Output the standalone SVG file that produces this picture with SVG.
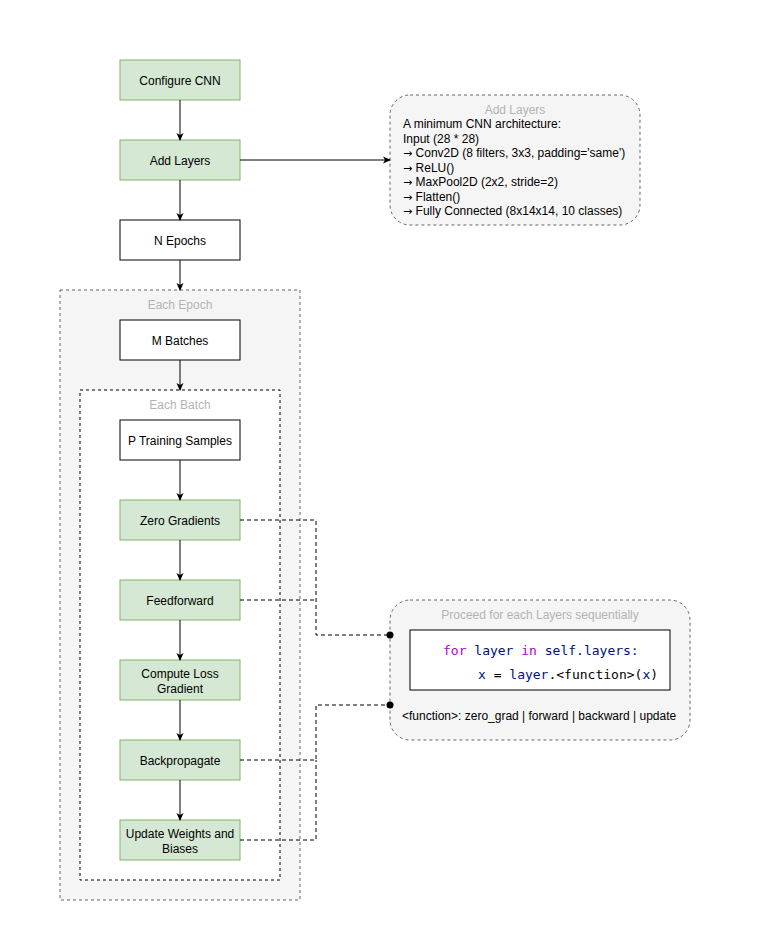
<svg xmlns="http://www.w3.org/2000/svg" width="760" height="950" viewBox="0 0 760 950">
<style>
.node{stroke-width:1}
.green{fill:#d5e8d4;stroke:#82b366}
.white{fill:#ffffff;stroke:#000000}
.lbl{font-family:"Liberation Sans",Arial,sans-serif;font-size:12px;fill:#000;text-anchor:middle}
.title{font-family:"Liberation Sans",Arial,sans-serif;font-size:12px;fill:#b3b3b3;text-anchor:middle}
.note{font-family:"Liberation Sans",Arial,sans-serif;font-size:12px;fill:#000}
.ar{font-family:"DejaVu Sans",sans-serif;font-size:11px}
.code{font-family:"DejaVu Sans Mono","Liberation Mono",monospace;font-size:13px;fill:#001080}
.kw{fill:#af00db}
.pl{fill:#000000}
.arrow{fill:none;stroke:#000;stroke-width:1}
.dash{fill:none;stroke:#000;stroke-width:1;stroke-dasharray:4 3}
</style>
<defs>
<marker id="ah" markerWidth="10" markerHeight="10" refX="7" refY="5" orient="auto" markerUnits="userSpaceOnUse">
<path d="M0,1.5 L8,5 L0,8.5 L2,5 Z" fill="#000"/>
</marker>
<marker id="dot" markerWidth="8" markerHeight="8" refX="4" refY="4" markerUnits="userSpaceOnUse">
<circle cx="4" cy="4" r="3.5" fill="#000"/>
</marker>
</defs>
<rect width="760" height="950" fill="#ffffff"/>

<g id="each-epoch">
<rect x="60" y="290" width="240" height="610" fill="#f5f5f5" stroke="#666666" stroke-dasharray="3 3"/>
<text class="title" x="180" y="309">Each Epoch</text>
</g>
<g id="each-batch">
<rect x="80" y="390" width="200" height="490" fill="#ffffff" stroke="#000000" stroke-dasharray="3 3"/>
<text class="title" x="180" y="409">Each Batch</text>
</g>

<g id="configure-cnn"><rect class="green" x="120" y="60" width="120" height="40"/><text class="lbl" x="180" y="85">Configure CNN</text></g>
<g id="add-layers"><rect class="green" x="120" y="140" width="120" height="40"/><text class="lbl" x="180" y="165">Add Layers</text></g>
<g id="n-epochs"><rect class="white" x="120" y="220" width="120" height="40"/><text class="lbl" x="180" y="245">N Epochs</text></g>
<g id="m-batches"><rect class="white" x="120" y="320" width="120" height="40"/><text class="lbl" x="180" y="345">M Batches</text></g>
<g id="p-samples"><rect class="white" x="120" y="420" width="120" height="40"/><text class="lbl" x="180" y="445">P Training Samples</text></g>
<g id="zero-gradients"><rect class="green" x="120" y="500" width="120" height="40"/><text class="lbl" x="180" y="525">Zero Gradients</text></g>
<g id="feedforward"><rect class="green" x="120" y="580" width="120" height="40"/><text class="lbl" x="180" y="605">Feedforward</text></g>
<g id="compute-loss"><rect class="green" x="120" y="660" width="120" height="40"/><text class="lbl" x="180" y="678">Compute Loss</text><text class="lbl" x="180" y="693">Gradient</text></g>
<g id="backpropagate"><rect class="green" x="120" y="740" width="120" height="40"/><text class="lbl" x="180" y="765">Backpropagate</text></g>
<g id="update-weights"><rect class="green" x="120" y="820" width="120" height="40"/><text class="lbl" x="180" y="838">Update Weights and</text><text class="lbl" x="180" y="853">Biases</text></g>

<g id="add-layers-note">
<rect x="390" y="95" width="250" height="130" rx="20" ry="20" fill="#f5f5f5" stroke="#666666" stroke-dasharray="3 3"/>
<text class="title" x="515" y="114">Add Layers</text>
<text class="note" x="403" y="128">A minimum CNN architecture:</text>
<text class="note" x="403" y="142.5">Input (28 * 28)</text>
<text class="note" x="403" y="157"><tspan class="ar">→</tspan> Conv2D (8 filters, 3x3, padding='same')</text>
<text class="note" x="403" y="171.5"><tspan class="ar">→</tspan> ReLU()</text>
<text class="note" x="403" y="186"><tspan class="ar">→</tspan> MaxPool2D (2x2, stride=2)</text>
<text class="note" x="403" y="200.5"><tspan class="ar">→</tspan> Flatten()</text>
<text class="note" x="403" y="215"><tspan class="ar">→</tspan> Fully Connected (8x14x14, 10 classes)</text>
</g>

<g id="proceed-note">
<rect x="390" y="600" width="300" height="140" rx="20" ry="20" fill="#f5f5f5" stroke="#666666" stroke-dasharray="3 3"/>
<text class="title" x="540" y="619">Proceed for each Layers sequentially</text>
<rect x="410" y="630" width="260" height="60" fill="#ffffff" stroke="#000000"/>
<text class="code" x="443" y="655"><tspan class="kw">for</tspan> layer <tspan class="kw">in</tspan> self.layers:</text>
<text class="code" x="478" y="679">x <tspan class="pl">=</tspan> layer<tspan class="pl">.&lt;function&gt;(</tspan>x<tspan class="pl">)</tspan></text>
<text class="note" x="402" y="720">&lt;function&gt;: zero_grad | forward | backward | update</text>
</g>

<g id="connectors">
<path class="arrow" d="M180,100 V140" marker-end="url(#ah)"/>
<path class="arrow" d="M180,180 V220" marker-end="url(#ah)"/>
<path class="arrow" d="M180,260 V290" marker-end="url(#ah)"/>
<path class="arrow" d="M180,360 V390" marker-end="url(#ah)"/>
<path class="arrow" d="M180,460 V500" marker-end="url(#ah)"/>
<path class="arrow" d="M180,540 V580" marker-end="url(#ah)"/>
<path class="arrow" d="M180,620 V660" marker-end="url(#ah)"/>
<path class="arrow" d="M180,700 V740" marker-end="url(#ah)"/>
<path class="arrow" d="M180,780 V820" marker-end="url(#ah)"/>
<path class="arrow" d="M240,160 H390" marker-end="url(#ah)"/>
<path class="dash" d="M240,520 H316 V635 H390" marker-end="url(#dot)"/>
<path class="dash" d="M240,600 H316"/>
<path class="dash" d="M240,760 H316 V705 H390" marker-end="url(#dot)"/>
<path class="dash" d="M240,840 H316 V760"/>
</g>
</svg>
